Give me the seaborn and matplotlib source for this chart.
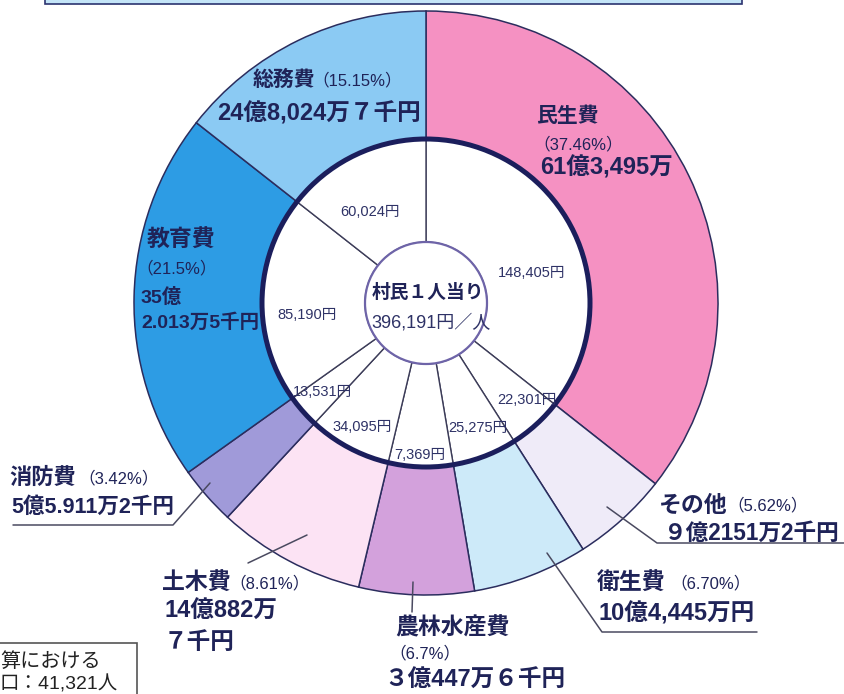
import numpy as np
import pandas as pd
import seaborn as sns
import matplotlib.pyplot as plt
from matplotlib.patches import Circle, Rectangle

# 歳出の内訳（12時から時計回り）
names = ['民生費', 'その他', '衛生費', '農林水産費', '土木費', '消防費', '教育費', '総務費']
pcts = [37.46, 5.62, 6.70, 6.7, 8.61, 3.42, 21.5, 15.15]
pct_text = ['（37.46%）', '（5.62%）', '（6.70%）', '（6.7%）', '（8.61%）', '（3.42%）', '（21.5%）', '（15.15%）']
amounts = ['61億3,495万', '９億2151万2千円', '10億4,445万円', '３億447万６千円',
           '14億882万\n７千円', '5億5.911万2千円', '35億\n2.013万5千円', '24億8,024万７千円']
per_person = [148405, 22301, 25275, 7369, 34095, 13531, 85190, 60024]
total_per_person = '396,191円／人'
box_lines = ['算における', '口：41,321人']

df = pd.DataFrame({'name': names, 'pct': pcts, 'per_person': per_person})

colors = ['#f591c2', '#efebf8', '#cdeaf9', '#d3a1dc', '#fce3f4', '#a09ad9', '#2d9ce4', '#8bcaf3']
pal = sns.color_palette(colors)

sns.set_theme(style="white")
plt.rcParams['font.family'] = ['Liberation Sans', 'Noto Sans CJK JP', 'DejaVu Sans']
narrow = ['Liberation Sans Narrow', 'Liberation Sans', 'Noto Sans CJK JP']
navy = '#1f2358'

W, H = 844, 694
fig = plt.figure(figsize=(W / 100, H / 100), dpi=100)
ax = fig.add_axes([0, 0, 1, 1])

def P(x, y):
    return (x, H - y)

cx, cy = P(426, 303)
R_out, R_mid, R_in = 292, 164, 61

# 外側のリング
ax.pie(df['pct'], colors=pal, startangle=90, counterclock=False, radius=R_out,
       center=(cx, cy), wedgeprops=dict(width=R_out - R_mid, edgecolor='#2b2d5e', linewidth=1.1))
# 内側（1人当り）
ax.pie(df['pct'], colors=['white'] * len(df), startangle=90, counterclock=False, radius=R_mid,
       center=(cx, cy), wedgeprops=dict(width=R_mid - R_in, edgecolor='#3c3c58', linewidth=1.0))
ax.add_patch(Circle((cx, cy), R_mid, fill=False, ec='#1b1e5c', lw=3.6, zorder=5))
ax.add_patch(Circle((cx, cy), R_in, fc='white', ec='#6e64a8', lw=1.6, zorder=6))

ax.set_xlim(0, W)
ax.set_ylim(0, H)
ax.set_aspect('equal')
ax.axis('off')

# 上の帯
ax.add_patch(Rectangle(P(45, 4), 697, 20, fc='#c4e5f8', ec='#2c3470', lw=1.2))
# 左下の枠
ax.add_patch(Rectangle(P(-5, 700), 142, 57, fc='white', ec='#555555', lw=1.2))
ax.text(*P(0, 661), box_lines[0], fontsize=14.5, color='#222222', ha='left', va='center')
ax.text(*P(0, 684), box_lines[1], fontsize=14, color='#222222', ha='left', va='center')

# 項目ラベル: 名前, %, 金額 の位置と大きさ
name_pos = [(536, 116), (659, 505), (597, 583), (395, 628), (162, 583), (9, 478), (147, 240), (253, 80)]
pct_pos = [(533, 144), (727, 505), (670, 583), (389, 653), (229, 583), (78, 478), (136, 268), (312, 80)]
amt_pos = [(540, 168), (664, 533), (599, 614), (384, 680), (164, 627), (11, 507), (141, 310), (217, 114)]
name_fs = [15, 16.5, 16.5, 16.5, 16.5, 16, 16.5, 15]
amt_fs = [17, 16.3, 17, 17, 17, 15.5, 14, 17]
for i in range(len(names)):
    ax.text(*P(*name_pos[i]), names[i], fontsize=name_fs[i], fontweight='bold', color=navy,
            ha='left', va='center')
    ax.text(*P(*pct_pos[i]), pct_text[i], fontsize=12, color=navy, family=narrow,
            ha='left', va='center')
    ax.text(*P(*amt_pos[i]), amounts[i], fontsize=amt_fs[i], fontweight='bold', color=navy,
            ha='left', va='center', linespacing=1.45)

# 1人当り
pp_pos = [(532, 273), (527, 400), (478, 428), (420, 455), (362, 427), (322, 392), (307, 315), (370, 212)]
for i, v in enumerate(df['per_person']):
    ax.text(*P(*pp_pos[i]), f'{v:,}円', fontsize=10.5, color='#2e3266', family=narrow,
            ha='center', va='center', zorder=7)
ax.text(*P(428, 293), '村民１人当り', fontsize=13.5, fontweight='bold', color=navy,
        ha='center', va='center', zorder=8)
ax.text(*P(431, 323), total_per_person, fontsize=13, color='#2e3266', family=narrow,
        ha='center', va='center', zorder=8)

# 引き出し線
leaders = [
    [(210, 483), (173, 525), (13, 525)],
    [(307, 535), (248, 563)],
    [(413, 582), (412, 612)],
    [(547, 553), (602, 632), (757, 632)],
    [(607, 507), (657, 543), (844, 543)],
]
for pts in leaders:
    xs = [p[0] for p in pts]
    ys = [H - p[1] for p in pts]
    ax.plot(xs, ys, color='#4a4a60', lw=1.1, zorder=4)

plt.savefig('out.png', dpi=100)
